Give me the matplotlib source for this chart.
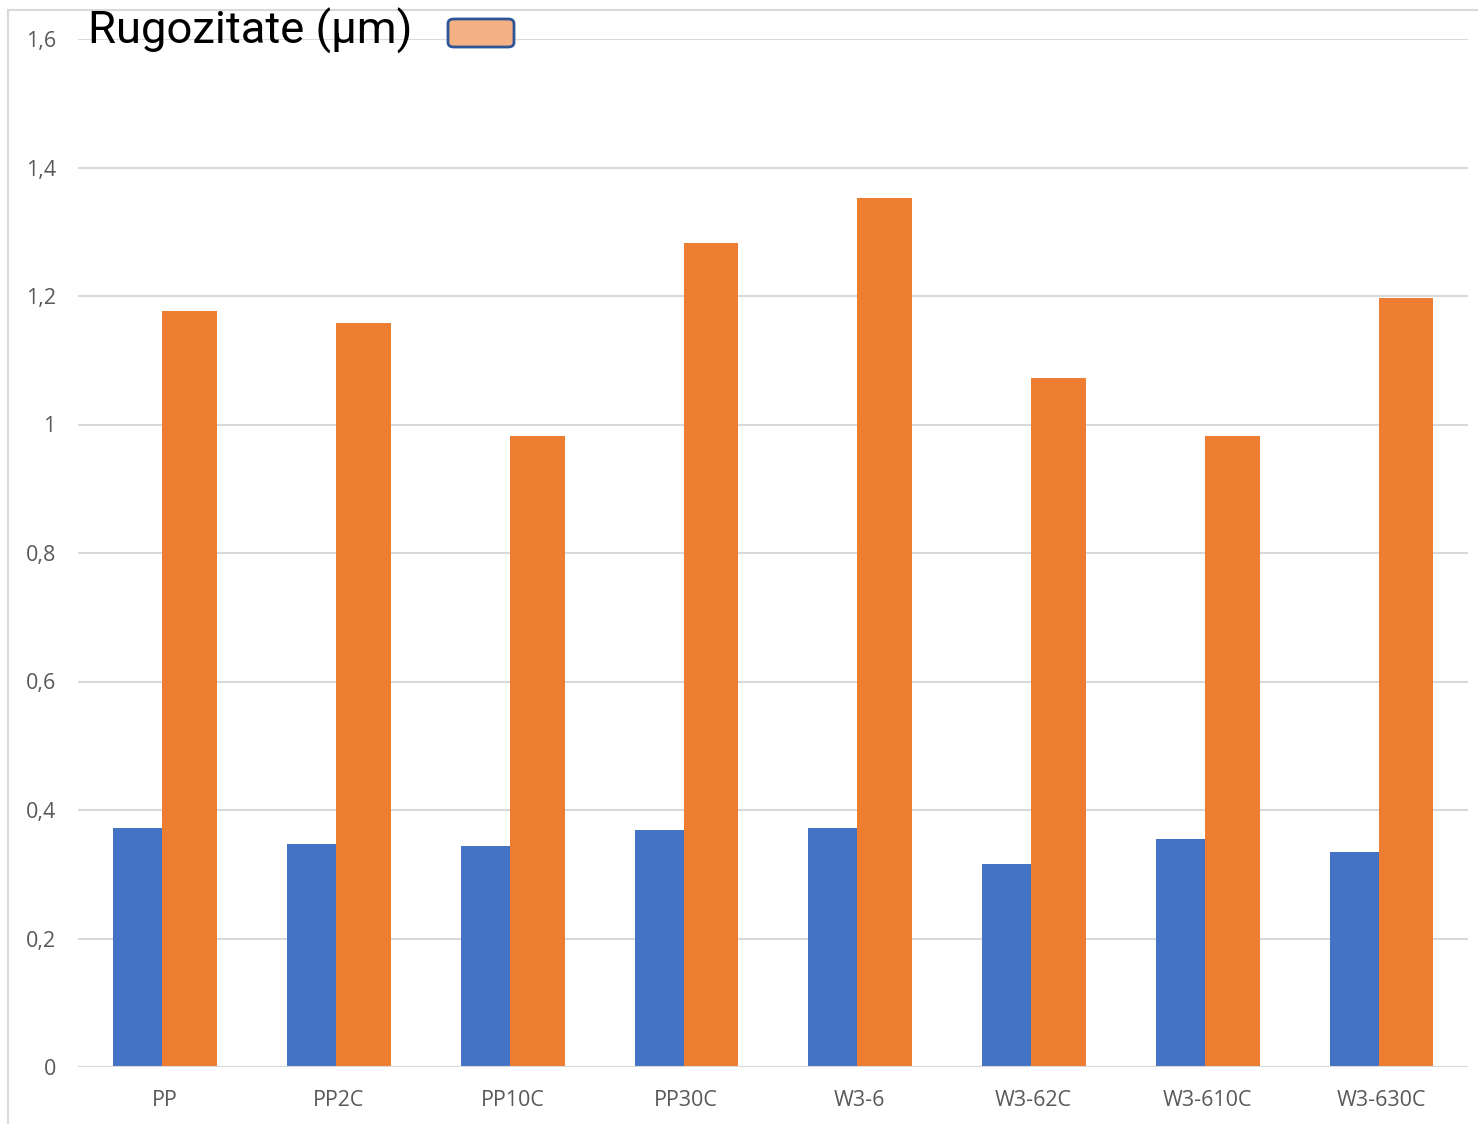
import matplotlib.pyplot as plt
from matplotlib.patches import FancyBboxPatch
from matplotlib.lines import Line2D
import numpy as np

categories = ["PP", "PP2C", "PP10C", "PP30C", "W3-6", "W3-62C", "W3-610C", "W3-630C"]
series_a = [0.372, 0.347, 0.344, 0.369, 0.372, 0.316, 0.355, 0.335]
series_b = [1.177, 1.158, 0.982, 1.282, 1.353, 1.072, 0.982, 1.197]
y_ticks = [0, 0.2, 0.4, 0.6, 0.8, 1.0, 1.2, 1.4, 1.6]
y_tick_labels = ["0", "0,2", "0,4", "0,6", "0,8", "1", "1,2", "1,4", "1,6"]
title = "Rugozitate (μm)"

W, H = 1478, 1124
fig = plt.figure(figsize=(W / 100, H / 100), dpi=100)
ax = fig.add_axes([78 / W, 1 - 1067 / H, (1468 - 78) / W, (1067 - 39) / H])

x = np.arange(len(categories))
ax.bar(x - 0.152, series_a, width=0.29, color="#4472C4", zorder=2)
ax.bar(x + 0.143, series_b, width=0.315, color="#ED7D31", zorder=3)

ax.set_xlim(-0.5, len(categories) - 0.5)
ax.set_ylim(0, 1.6)
ax.set_yticks(y_ticks)
ax.set_yticklabels(y_tick_labels)
ax.set_xticks(x)
ax.set_xticklabels(categories)
ax.yaxis.grid(True, color="#D9D9D9", linewidth=1.5, zorder=0)
ax.set_axisbelow(True)
ax.axhline(0, color="#D9D9D9", linewidth=1.5, zorder=4)
for s in ax.spines.values():
    s.set_visible(False)
ax.tick_params(axis="both", length=0, labelsize=15.5, labelcolor="#595959")
ax.tick_params(axis="y", pad=16)
ax.tick_params(axis="x", pad=16.5)
for lab in ax.get_xticklabels() + ax.get_yticklabels():
    lab.set_fontfamily("Open Sans")

# outer chart frame
fig.add_artist(Line2D([8 / W, 8 / W], [0, 1 - 10 / H], color="#D9D9D9", linewidth=1.5))
fig.add_artist(Line2D([8 / W, 1], [1 - 10 / H, 1 - 10 / H], color="#D9D9D9", linewidth=1.5))

fig.text(88 / W, 1 - 31 / H, title, fontsize=32.7, fontfamily="Roboto",
         ha="left", va="center", color="black")

legend_box = FancyBboxPatch((448 / W, 1 - 47 / H), (514 - 448) / W, (47 - 19) / H,
                            boxstyle="round,pad=0,rounding_size=0.004",
                            transform=fig.transFigure, facecolor="#F4B183",
                            edgecolor="#2F5597", linewidth=2)
fig.add_artist(legend_box)

fig.savefig("out.png", dpi=100)
